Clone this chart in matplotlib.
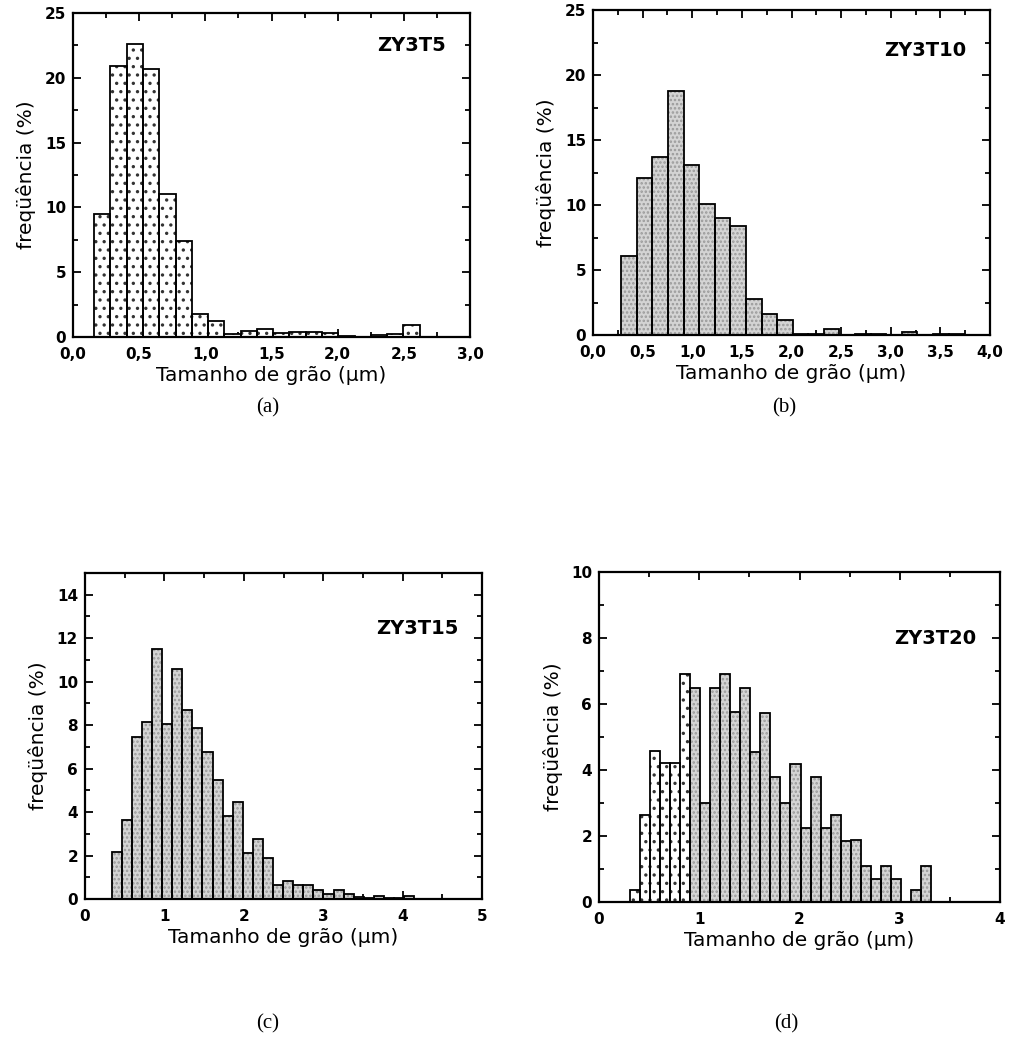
import matplotlib
matplotlib.use("Agg")
import matplotlib.pyplot as plt
from matplotlib.ticker import MultipleLocator, FuncFormatter
import numpy as np

plt.rcParams['font.family'] = ['DejaVu Sans', 'Liberation Sans']
plt.rcParams['hatch.linewidth'] = 1.2

# ---------------- data ----------------
# (a) ZY3T5
a_start, a_width = 0.16, 0.123
a_heights = [9.5, 20.9, 22.6, 20.7, 11.0, 7.4, 1.8, 1.2, 0.25, 0.5,
             0.6, 0.3, 0.4, 0.4, 0.3, 0.1, 0.0, 0.15, 0.2, 0.9]
# (b) ZY3T10
b_start, b_width = 0.285, 0.157
b_heights = [6.1, 12.1, 13.7, 18.8, 13.1, 10.1, 9.0, 8.4, 2.8, 1.6, 1.15,
             0.1, 0.1, 0.45, 0.0, 0.05, 0.05, 0.0, 0.2, 0.0, 0.05, 0.05]
# (c) ZY3T15
c_start, c_width = 0.336, 0.127
c_heights = [2.15, 3.64, 7.45, 8.13, 11.5, 8.06, 10.6, 8.7, 7.86, 6.76,
             5.48, 3.82, 4.47, 2.1, 2.78, 1.87, 0.65, 0.83, 0.65, 0.65,
             0.4, 0.25, 0.4, 0.25, 0.1, 0.05, 0.12, 0.05, 0.05, 0.15]
# (d) ZY3T20
d_start, d_width = 0.31, 0.1
d_heights = [0.37, 2.63, 4.58, 4.2, 4.2, 6.9, 6.5, 3.0, 6.5, 6.9,
             5.75, 6.5, 4.56, 5.73, 3.8, 3.0, 4.19, 2.23, 3.8, 2.25,
             2.63, 1.84, 1.87, 1.1, 0.71, 1.1, 0.71, 0.0, 0.37, 1.1]

labels = ["ZY3T5", "ZY3T10", "ZY3T15", "ZY3T20"]
captions = ["(a)", "(b)", "(c)", "(d)"]
xlabel = "Tamanho de grão (µm)"
ylabel = "freqüência (%)"

# ---------------- figure ----------------
fig = plt.figure(figsize=(10.16, 10.52), dpi=100)

def px_axes(l, r, t, b):
    W, H = 1016, 1052
    return fig.add_axes([l / W, (H - b) / H, (r - l) / W, (b - t) / H])

axA = px_axes(73, 470, 13, 337)
axB = px_axes(593, 990, 10, 335)
axC = px_axes(85, 482, 573, 899)
axD = px_axes(599, 1000, 572, 902)

def comma(decimals):
    def f(v, pos):
        s = f"{v:.{decimals}f}"
        return s.replace(".", ",")
    return FuncFormatter(f)

def draw(ax, start, width, heights, gray_mask, dotted_mask):
    n = len(heights)
    lefts = start + width * np.arange(n)
    h = np.array(heights)
    for i in range(n):
        if h[i] <= 0:
            continue
        if dotted_mask[i]:
            ax.bar(lefts[i], h[i], width=width, align='edge', facecolor='white',
                   edgecolor='#333333', hatch='..', linewidth=0, zorder=2)
        elif gray_mask[i]:
            ax.bar(lefts[i], h[i], width=width, align='edge', facecolor='#d4d4d4',
                   edgecolor='#9a9a9a', hatch='....', linewidth=0, zorder=2)
        ax.bar(lefts[i], h[i], width=width, align='edge', facecolor='none',
               edgecolor='black', linewidth=1.3, zorder=3)

def style(ax, xlim, ylim, xmaj, xmin, ymaj, ymin, xfmt, label, label_y):
    ax.set_xlim(*xlim)
    ax.set_ylim(*ylim)
    ax.xaxis.set_major_locator(MultipleLocator(xmaj))
    ax.xaxis.set_minor_locator(MultipleLocator(xmin))
    ax.yaxis.set_major_locator(MultipleLocator(ymaj))
    ax.yaxis.set_minor_locator(MultipleLocator(ymin))
    if xfmt is not None:
        ax.xaxis.set_major_formatter(xfmt)
    ax.tick_params(which='both', direction='in', top=True, right=True,
                   width=1.3, labelsize=11)
    ax.tick_params(axis='x', which='major', pad=7)
    ax.tick_params(axis='y', which='major', pad=5)
    ax.tick_params(which='major', length=6)
    ax.tick_params(which='minor', length=3.5)
    for s in ax.spines.values():
        s.set_linewidth(1.6)
    ax.set_xlabel(xlabel, fontsize=14.5, labelpad=3)
    ax.set_ylabel(ylabel, fontsize=14.5, labelpad=6)
    ax.text(0.94, label_y, label, transform=ax.transAxes, ha='right', va='center',
            fontsize=14, fontweight='bold')

nA, nB, nC, nD = len(a_heights), len(b_heights), len(c_heights), len(d_heights)
draw(axA, a_start, a_width, a_heights, [False] * nA, [True] * nA)
draw(axB, b_start, b_width, b_heights, [True] * nB, [False] * nB)
draw(axC, c_start, c_width, c_heights, [True] * nC, [False] * nC)
draw(axD, d_start, d_width, d_heights, [True] * nD, [i < 6 for i in range(nD)])

style(axA, (0, 3), (0, 25), 0.5, 0.25, 5, 2.5, comma(1), labels[0], 0.90)
style(axB, (0, 4), (0, 25), 0.5, 0.25, 5, 2.5, comma(1), labels[1], 0.875)
style(axC, (0, 5), (0, 15), 1, 0.5, 2, 1, None, labels[2], 0.83)
axC.set_yticks(np.arange(0, 15, 2))
style(axD, (0, 4), (0, 10), 1, 0.5, 2, 1, None, labels[3], 0.80)

for ax in (axA, axB, axC, axD):
    for lab in ax.get_xticklabels() + ax.get_yticklabels():
        lab.set_fontweight('bold')

for (x, y), cap in zip([(268, 408), (784, 408), (268, 1024), (786, 1024)], captions):
    fig.text(x / 1016, 1 - y / 1052, cap, ha='center', va='center',
             fontsize=15, family=['Liberation Serif', 'DejaVu Serif'])

fig.savefig("out.png", dpi=100)
